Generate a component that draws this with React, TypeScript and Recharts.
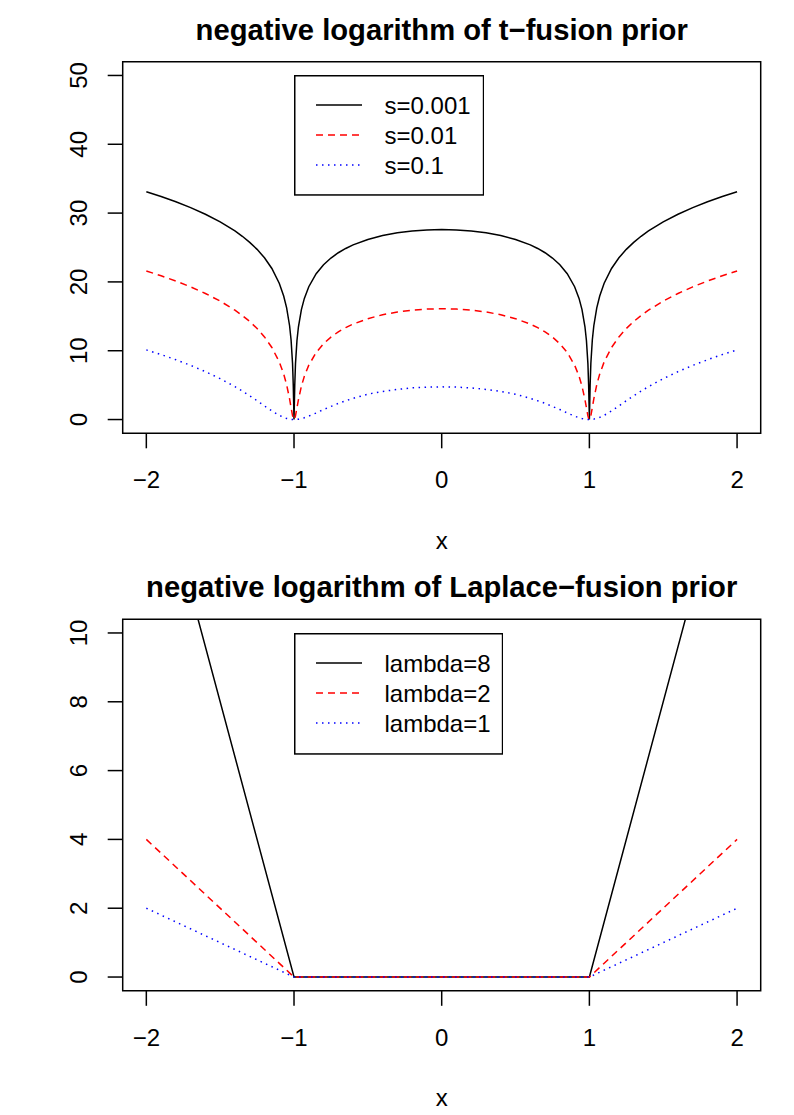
import React from 'react';
import { LineChart, Line, XAxis, YAxis, ReferenceArea, Legend } from 'recharts';

// ---- shared axis ticks ----
const xTicks = [-2, -1, 0, 1, 2];

// ---- t-fusion prior: -log density on a grid of x ----
const tX = [
  -2, -1.9, -1.8, -1.7, -1.6, -1.5, -1.4, -1.35, -1.3, -1.25, -1.2, -1.15, -1.1, -1.07, -1.05, -1.03, -1.02, -1.01, -1.005, -1,
  -0.995, -0.99, -0.98, -0.97, -0.95, -0.93, -0.9, -0.85, -0.8, -0.75, -0.7, -0.65, -0.6, -0.5, -0.4, -0.3, -0.2, -0.1,
  0,
  0.1, 0.2, 0.3, 0.4, 0.5, 0.6, 0.65, 0.7, 0.75, 0.8, 0.85, 0.9, 0.93, 0.95, 0.97, 0.98, 0.99, 0.995,
  1, 1.005, 1.01, 1.02, 1.03, 1.05, 1.07, 1.1, 1.15, 1.2, 1.25, 1.3, 1.35, 1.4, 1.5, 1.6, 1.7, 1.8, 1.9, 2,
];
const tS0001 = [
  33.1, 32.4, 31.64, 30.79, 29.83, 28.72, 27.4, 26.63, 25.75, 24.73, 23.5, 21.95, 19.8, 17.95, 16.22, 13.63, 11.59, 8.17, 4.96, 0,
  4.94, 8.12, 11.49, 13.48, 15.97, 17.6, 19.3, 21.2, 22.5, 23.47, 24.24, 24.86, 25.38, 26.17, 26.74, 27.14, 27.4, 27.56,
  27.61,
  27.56, 27.4, 27.14, 26.74, 26.17, 25.38, 24.86, 24.24, 23.47, 22.5, 21.2, 19.3, 17.6, 15.97, 13.48, 11.49, 8.12, 4.94,
  0, 4.96, 8.17, 11.59, 13.63, 16.22, 17.95, 19.8, 21.95, 23.5, 24.73, 25.75, 26.63, 27.4, 28.72, 29.83, 30.79, 31.64, 32.4, 33.1,
];
const tS001 = [
  21.59, 20.89, 20.13, 19.28, 18.32, 17.21, 15.89, 15.12, 14.25, 13.23, 12.01, 10.47, 8.38, 6.62, 5.06, 3.0, 1.76, 0.56, 0.15, 0,
  0.15, 0.55, 1.71, 2.89, 4.84, 6.3, 7.9, 9.74, 11.02, 11.98, 12.74, 13.36, 13.87, 14.66, 15.23, 15.63, 15.89, 16.05,
  16.1,
  16.05, 15.89, 15.63, 15.23, 14.66, 13.87, 13.36, 12.74, 11.98, 11.02, 9.74, 7.9, 6.3, 4.84, 2.89, 1.71, 0.55, 0.15,
  0, 0.15, 0.56, 1.76, 3.0, 5.06, 6.62, 8.38, 10.47, 12.01, 13.23, 14.25, 15.12, 15.89, 17.21, 18.32, 19.28, 20.13, 20.89, 21.59,
];
const tS01 = [
  10.12, 9.44, 8.69, 7.87, 6.96, 5.94, 4.78, 4.14, 3.45, 2.73, 1.98, 1.25, 0.61, 0.31, 0.16, 0.06, 0.03, 0.01, 0, 0,
  0, 0.01, 0.02, 0.05, 0.14, 0.26, 0.5, 0.95, 1.45, 1.9, 2.35, 2.72, 3.08, 3.68, 4.08, 4.38, 4.6, 4.71,
  4.75,
  4.71, 4.6, 4.38, 4.08, 3.68, 3.08, 2.72, 2.35, 1.9, 1.45, 0.95, 0.5, 0.26, 0.14, 0.05, 0.02, 0.01, 0,
  0, 0, 0.01, 0.03, 0.06, 0.16, 0.31, 0.61, 1.25, 1.98, 2.73, 3.45, 4.14, 4.78, 5.94, 6.96, 7.87, 8.69, 9.44, 10.12,
];
const tYTicks = [0, 10, 20, 30, 40, 50];
const tLegend = ['s=0.001', 's=0.01', 's=0.1'];

// ---- Laplace-fusion prior: piecewise linear in x ----
const lX = [-2, -1, 1, 2];
const lLambda8 = [16, 0, 0, 16];
const lLambda2 = [4, 0, 0, 4];
const lLambda1 = [2, 0, 0, 2];
const lYTicks = [0, 2, 4, 6, 8, 10];
const lLegend = ['lambda=8', 'lambda=2', 'lambda=1'];

const FONT = '"Liberation Sans", Arial, Helvetica, sans-serif';
const LINE_STYLES = [
  { stroke: '#000000', dash: undefined as string | undefined },
  { stroke: '#ff0000', dash: '7 5' },
  { stroke: '#0000ff', dash: '1.5 4.5' },
];

const fmt = (v: number) => (v < 0 ? '\u2212' + Math.abs(v) : String(v));

const XTick = (props: any) => {
  const { x, y, payload } = props;
  return (
    <text x={x} y={y + 39.7} textAnchor="middle" fontSize={24} fontFamily={FONT} fill="#000">
      {fmt(payload.value)}
    </text>
  );
};

const YTick = (props: any) => {
  const { x, y, payload } = props;
  const bx = x - 20.7;
  return (
    <text
      x={bx}
      y={y}
      textAnchor="middle"
      fontSize={24}
      fontFamily={FONT}
      fill="#000"
      transform={`rotate(-90 ${bx} ${y})`}
    >
      {fmt(payload.value)}
    </text>
  );
};

const LegendBox = ({ labels, w, h }: { labels: string[]; w: number; h: number }) => (
  <svg width={w} height={h} style={{ display: 'block' }}>
    <rect x={0.75} y={0.75} width={w - 1.5} height={h - 1.5} fill="#fff" stroke="#000" strokeWidth={1.5} />
    {labels.map((lab, i) => (
      <g key={lab}>
        <line
          x1={22}
          x2={68}
          y1={30 + 30 * i}
          y2={30 + 30 * i}
          stroke={LINE_STYLES[i].stroke}
          strokeDasharray={LINE_STYLES[i].dash}
          strokeWidth={1.5}
        />
        <text x={90.5} y={38.6 + 30 * i} fontSize={24} fontFamily={FONT} fill="#000">
          {lab}
        </text>
      </g>
    ))}
  </svg>
);

const BOX_LEFT = 122.7;
const BOX_RIGHT = 760.7;
const YW = 60;
const XH = 60;
const XDOMAIN: [number, number] = [-2.16, 2.16];

type PanelProps = {
  top: number;
  height: number;
  boxTop: number;
  boxBottom: number;
  title: string;
  data: any[];
  keys: string[];
  yDomain: [number, number];
  yTicks: number[];
  legendLabels: string[];
  legendTop: number;
  legendW: number;
  legendH: number;
};

function Panel(p: PanelProps) {
  const cx = (BOX_LEFT + BOX_RIGHT) / 2;
  return (
    <div style={{ position: 'absolute', left: 0, top: p.top, width: 794, height: p.height }}>
      <LineChart
        width={794}
        height={p.height}
        data={p.data}
        margin={{ top: p.boxTop, right: 794 - BOX_RIGHT, bottom: p.height - p.boxBottom - XH, left: BOX_LEFT - YW }}
      >
        <XAxis
          dataKey="x"
          type="number"
          domain={XDOMAIN}
          ticks={xTicks}
          allowDataOverflow
          axisLine={false}
          tickLine={{ stroke: '#000', strokeWidth: 1.5 }}
          tickSize={15}
          tickMargin={0}
          tick={<XTick />}
          height={XH}
          interval={0}
        />
        <YAxis
          type="number"
          domain={p.yDomain}
          ticks={p.yTicks}
          allowDataOverflow
          axisLine={false}
          tickLine={{ stroke: '#000', strokeWidth: 1.5 }}
          tickSize={15}
          tickMargin={0}
          tick={<YTick />}
          width={YW}
          interval={0}
        />
        {p.keys.map((k, i) => (
          <Line
            key={k}
            dataKey={k}
            type="linear"
            stroke={LINE_STYLES[i].stroke}
            strokeDasharray={LINE_STYLES[i].dash}
            strokeWidth={1.5}
            dot={false}
            activeDot={false}
            isAnimationActive={false}
          />
        ))}
        <ReferenceArea
          x1={XDOMAIN[0]}
          x2={XDOMAIN[1]}
          y1={p.yDomain[0]}
          y2={p.yDomain[1]}
          fill="none"
          fillOpacity={0}
          stroke="#000"
          strokeWidth={1.5}
          ifOverflow="visible"
        />
        <Legend
          layout="vertical"
          align="center"
          verticalAlign="middle"
          wrapperStyle={{ left: 294, top: p.legendTop, width: p.legendW, height: p.legendH, margin: 0, padding: 0 }}
          content={() => <LegendBox labels={p.legendLabels} w={p.legendW} h={p.legendH} />}
        />
      </LineChart>
      <svg
        width={794}
        height={p.height}
        style={{ position: 'absolute', left: 0, top: 0, pointerEvents: 'none' }}
      >
        <text x={cx} y={40.2} textAnchor="middle" fontSize={29.2} fontWeight="bold" fontFamily={FONT} fill="#000">
          {p.title}
        </text>
        <text x={cx} y={549} textAnchor="middle" fontSize={24} fontFamily={FONT} fill="#000">
          x
        </text>
      </svg>
    </div>
  );
}

const tData = tX.map((x, i) => ({ x, s0001: tS0001[i], s001: tS001[i], s01: tS01[i] }));
const lData = lX.map((x, i) => ({ x, l8: lLambda8[i], l2: lLambda2[i], l1: lLambda1[i] }));

export default function App() {
  return (
    <div style={{ position: 'absolute', left: 0, top: 0, width: 794, height: 1115, background: '#fff', overflow: 'hidden' }}>
      <Panel
        top={0}
        height={557}
        boxTop={61.7}
        boxBottom={433.3}
        title={'negative logarithm of t\u2212fusion prior'}
        data={tData}
        keys={['s0001', 's001', 's01']}
        yDomain={[-2, 52]}
        yTicks={tYTicks}
        legendLabels={tLegend}
        legendTop={75}
        legendW={190.3}
        legendH={120.7}
      />
      <Panel
        top={557}
        height={558}
        boxTop={62.2}
        boxBottom={433.8}
        title={'negative logarithm of Laplace\u2212fusion prior'}
        data={lData}
        keys={['l8', 'l2', 'l1']}
        yDomain={[-0.4, 10.4]}
        yTicks={lYTicks}
        legendLabels={lLegend}
        legendTop={76.3}
        legendW={209.3}
        legendH={121.7}
      />
    </div>
  );
}
